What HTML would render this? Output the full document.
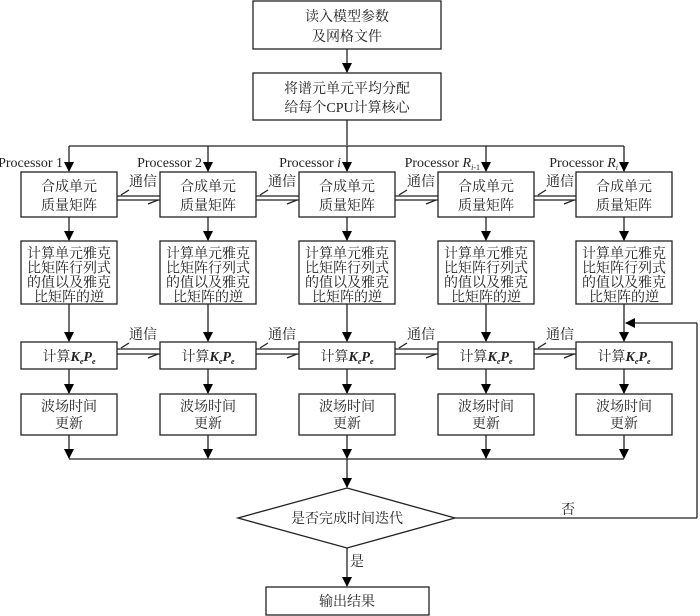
<!DOCTYPE html>
<html><head><meta charset="utf-8"><style>
html,body{margin:0;padding:0;background:#fff;}
svg{display:block;font-family:"Liberation Serif","Noto Serif CJK SC","Noto Sans CJK SC",serif;}
text{font-size:14px;fill:#222;}
</style></head><body>
<svg id="s" width="700" height="616" viewBox="0 0 700 616" xmlns="http://www.w3.org/2000/svg">
<defs><marker id="a" markerWidth="10" markerHeight="10" refX="9" refY="5" orient="auto" markerUnits="userSpaceOnUse"><path d="M0,0 L10,5 L0,10 Z" fill="#000"/></marker></defs>
<g stroke="#222" stroke-width="1.3" fill="none">
<rect x="253" y="1" width="188" height="48"/>
<rect x="253" y="73" width="188" height="47"/>
<line x1="347" y1="49" x2="347" y2="72" marker-end="url(#a)"/>
<line x1="347" y1="120" x2="347" y2="145"/>
<line x1="69" y1="146" x2="624" y2="146"/>
<line x1="697" y1="518" x2="697" y2="323"/>
<line x1="697" y1="323" x2="626" y2="323" marker-end="url(#a)"/>
<line x1="455" y1="518" x2="697" y2="518"/>
<line x1="69" y1="459" x2="624" y2="459"/>
<line x1="347" y1="459" x2="347" y2="487" marker-end="url(#a)"/>
<polygon points="238,518 347,488 455,518 347,548"/>
<line x1="347" y1="548" x2="347" y2="586" marker-end="url(#a)"/>
<rect x="266" y="587" width="163" height="28"/>
</g>
<g id="cols" stroke="#222" stroke-width="1.3" fill="none"></g>
<text x="347" y="21" text-anchor="middle">读入模型参数</text>
<text x="347" y="41" text-anchor="middle">及网格文件</text>
<text x="347" y="93" text-anchor="middle">将谱元单元平均分配</text>
<text x="347" y="112" text-anchor="middle">给每个CPU计算核心</text>
<text x="347" y="523" text-anchor="middle">是否完成时间迭代</text>
<text x="568" y="514" text-anchor="middle">否</text>
<text x="357" y="566" text-anchor="middle">是</text>
<text x="347" y="606" text-anchor="middle">输出结果</text>
<script>
var cx=[69,208,347,486,624],g=document.getElementById('cols'),ns="http://www.w3.org/2000/svg",svg=document.getElementById('s');
function el(t,o,p){var e=document.createElementNS(ns,t);for(var k in o)e.setAttribute(k,o[k]);(p||g).appendChild(e);return e;}
function tx(x,y,parts,anchor){var e=el('text',{x:x,y:y,'text-anchor':anchor||'middle'},svg);
if(typeof parts==='string')parts=[[parts,{}]];
parts.forEach(function(p){var t=el('tspan',p[1],e);t.textContent=p[0];});return e;}
var I={'font-style':'italic'},SUB={'font-style':'italic','font-size':'8',dy:'3'};
var labels=[[['Processor 1',{}]],[['Processor 2',{}]],[['Processor ',{}],['i',I]],
[['Processor ',{}],['R',I],['i',SUB],['-1',{'font-size':'8'}]],
[['Processor ',{}],['R',I],['i',SUB]]];
var B={'font-weight':'bold','font-style':'italic'};
var kp=[['计算',{}],['K',B],['e',{'font-weight':'bold','font-style':'italic','font-size':'8',dy:'3'}],['P',{'font-weight':'bold','font-style':'italic',dy:'-3'}],['e',{'font-weight':'bold','font-style':'italic','font-size':'8',dy:'3'}]];
for(var i=0;i<5;i++){var c=cx[i],l=c-48;
el('line',{x1:c,y1:146,x2:c,y2:171,'marker-end':'url(#a)'});
el('rect',{x:l,y:172,width:96,height:45});
el('line',{x1:c,y1:217,x2:c,y2:240,'marker-end':'url(#a)'});
el('rect',{x:l,y:241,width:96,height:63});
el('line',{x1:c,y1:304,x2:c,y2:341,'marker-end':'url(#a)'});
el('rect',{x:l,y:342,width:96,height:27});
el('line',{x1:c,y1:369,x2:c,y2:393,'marker-end':'url(#a)'});
el('rect',{x:l,y:394,width:96,height:41});
el('line',{x1:c,y1:435,x2:c,y2:458,'marker-end':'url(#a)'});
tx(c-6,167,labels[i],'end');
tx(c,191,'合成单元');tx(c,210,'质量矩阵');
var r=['计算单元雅克','比矩阵行列式','的值以及雅克','比矩阵的逆'];
for(var j=0;j<4;j++)tx(c,258+j*14.5,r[j]);
tx(c,361,kp);
tx(c,411,'波场时间');tx(c,428,'更新');
if(i<4){var x1=c+48,x2=cx[i+1]-48;
[[196,200],[349,354]].forEach(function(p){
el('line',{x1:x1,y1:p[0],x2:x2,y2:p[0]});el('line',{x1:x1,y1:p[1],x2:x2,y2:p[1]});
el('line',{x1:x2-2,y1:p[1],x2:x2-12,y2:p[1]+4});
el('line',{x1:x1+4,y1:p[0]-1,x2:x1+12,y2:p[0]-6});
tx(x1+26,p[0]-10,'通信');});
}}
</script>
</svg>
</body></html>
